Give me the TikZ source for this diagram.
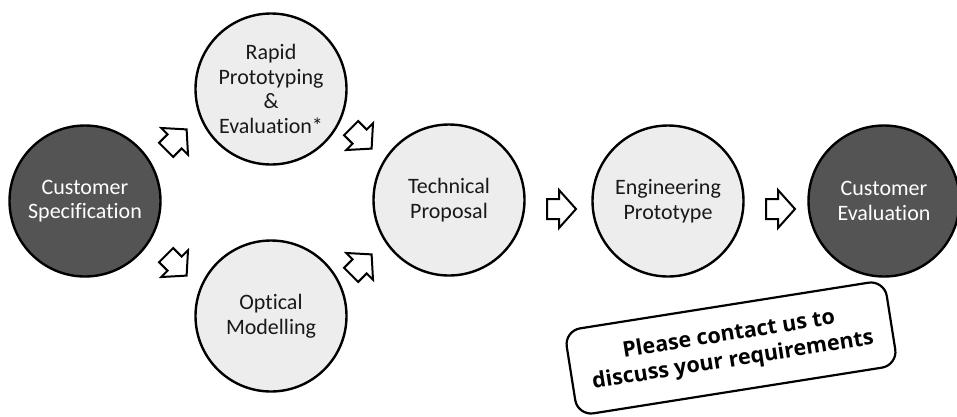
\documentclass[tikz,border=0pt]{standalone}
\usepackage{fontspec}
\setmainfont{Carlito}[RawFeature={-liga;-clig;-calt;-dlig}]
\newfontfamily\calloutfont{Open Sans}
\begin{document}
\begin{tikzpicture}[x=1pt,y=-1pt,
  stage/.style={circle, draw=black, line width=2.4pt, minimum size=151pt, inner sep=0pt,
     align=center, font=\fontsize{22}{24.5}\selectfont},
  light/.style={stage, fill=black!7, text=black!90},
  dark/.style={stage, fill=black!67, text=white},
  arrowline/.style={draw=black, line width=2pt, fill=white, line join=miter},
  blockarrow/.pic={\path[arrowline] (-14,-10) -- (-2,-10) -- (-2,-19) -- (15,0) -- (-2,19) -- (-2,10) -- (-14,10) -- cycle;},
  callout/.style={draw=black, line width=2.2pt, rounded corners=16pt, fill=white,
     minimum width=324pt, minimum height=86pt, align=center,
     font=\calloutfont\bfseries\fontsize{21.5}{26}\selectfont}
]
\useasboundingbox (0,0) rectangle (957,416);
\node[dark]  (cs) at (85,201)  {Customer\\Specification};
\node[light] (rp) at (271,89)  {Rapid\\Prototyping\\\&\\Evaluation*};
\node[light] (om) at (271,316) {Optical\\Modelling};
\node[light] (tp) at (449,200) {Technical\\Proposal};
\node[light] (ep) at (668,201) {Engineering\\Prototype};
\node[dark]  (ce) at (884,201) {Customer\\Evaluation};
\pic[rotate=45]  at (176,140) {blockarrow};
\pic[rotate=-45] at (176,265) {blockarrow};
\pic[rotate=-45] at (361,138) {blockarrow};
\pic[rotate=45]  at (361,265) {blockarrow};
\pic at (561,209) {blockarrow};
\pic at (780,209) {blockarrow};
\node[callout, rotate=9] (note) at (731,348) {Please contact us to\\discuss your requirements};
\end{tikzpicture}
\end{document}
